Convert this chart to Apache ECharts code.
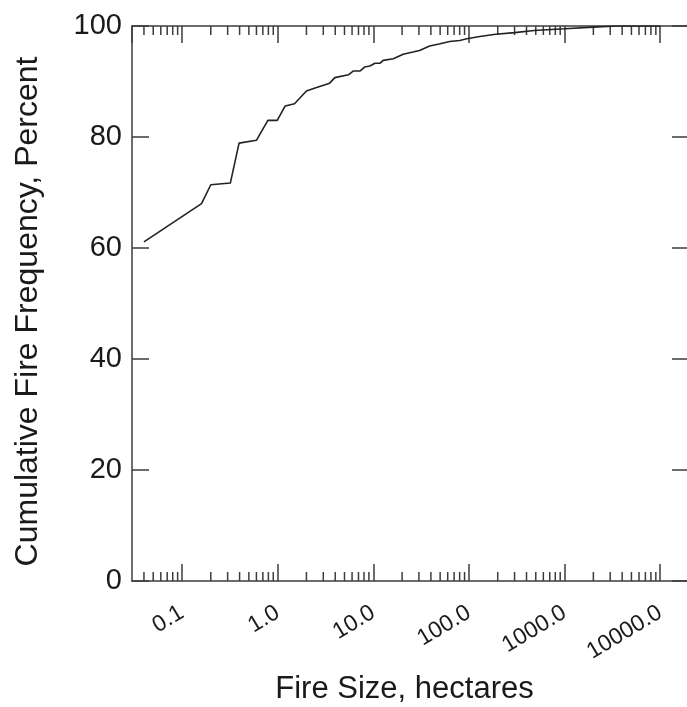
<!DOCTYPE html>
<html>
<head>
<meta charset="utf-8">
<script src="https://cdn.jsdelivr.net/npm/echarts@6/dist/echarts.min.js"></script>
<style>
  html, body { margin: 0; padding: 0; background: #fff; }
  #chart { width: 687px; height: 707px; }
</style>
</head>
<body>
<div id="chart"></div>
<script>
// fire size (hectares) and cumulative frequency (%)
var fireSize = [0.040, 0.16, 0.20, 0.32, 0.395, 0.60, 0.79, 0.99, 1.2, 1.5, 2.0, 2.55, 3.5, 3.96,
  5.5, 6.2, 7.3, 8.1, 9.2, 10.4, 11.8, 12.7, 16.2, 20.5, 26, 30.5, 38.8, 50, 62.8, 80, 95,
  130, 190, 300, 480, 1000, 2000, 3500, 10000];
var cumPercent = [61.1, 68.0, 71.4, 71.7, 78.9, 79.4, 83.0, 83.0, 85.6, 86.0, 88.3, 88.9, 89.7, 90.7,
  91.2, 91.9, 91.9, 92.6, 92.8, 93.3, 93.3, 93.8, 94.1, 94.9, 95.3, 95.6, 96.4, 96.8, 97.2, 97.4, 97.7,
  98.1, 98.5, 98.8, 99.2, 99.5, 99.8, 100, 100];

// minor ticks of the log axis (2..9 in every decade)
var minorTicks = [0.04, 0.05, 0.06, 0.07, 0.08, 0.09];
[0.1, 1, 10, 100, 1000, 10000].forEach(function (d) {
  for (var k = 2; k <= 9; k++) {
    var v = Number((k * d).toPrecision(6));
    if (v < 20000) minorTicks.push(v);
  }
});

var xMin = 0.03, xMax = 20000;

var font = 'Liberation Sans, Arial, sans-serif';
var axisColor = '#3c3c3c';
var textColor = '#1a1a1a';

var chart = echarts.init(document.getElementById('chart'));

function xLabel(v) {
  v = Number(v.toPrecision(6));
  return v < 1 ? String(v) : v.toFixed(1);
}

var lineSt = { color: axisColor, width: 1.5 };

chart.setOption({
  animation: false,
  grid: { left: 132, top: 26, right: -2, bottom: 126, outerBoundsMode: 'none', containLabel: false },
  xAxis: [{
    type: 'log',
    min: xMin,
    max: xMax,
    position: 'bottom',
    name: 'Fire Size, hectares',
    nameLocation: 'middle',
    nameGap: 93,
    nameTextStyle: { fontSize: 31, color: textColor, fontFamily: font, padding: [0, 12, 0, 0] },
    axisLine: { onZero: false, lineStyle: lineSt },
    axisTick: { inside: true, length: 17, lineStyle: lineSt },
    axisLabel: {
      rotate: 31, margin: 30, fontSize: 23, color: textColor, fontFamily: font,
      showMinLabel: false, showMaxLabel: false, formatter: xLabel
    },
    splitLine: { show: false }
  }, {
    type: 'log',
    min: xMin,
    max: xMax,
    position: 'top',
    axisLine: { onZero: false, lineStyle: lineSt },
    axisTick: { inside: true, length: 17, lineStyle: lineSt },
    axisLabel: { show: false },
    splitLine: { show: false }
  }],
  yAxis: [{
    type: 'value',
    min: 0,
    max: 100,
    interval: 20,
    name: 'Cumulative Fire Frequency, Percent',
    nameLocation: 'middle',
    nameRotate: 90,
    nameGap: 88,
    nameTextStyle: { fontSize: 32, color: textColor, fontFamily: font, padding: [0, 16, 0, 0] },
    axisLine: { show: true, onZero: false, lineStyle: lineSt },
    axisTick: { show: true, inside: true, length: 17, lineStyle: lineSt },
    axisLabel: { margin: 10, fontSize: 29, color: textColor, fontFamily: font },
    splitLine: { show: false }
  }, {
    type: 'value',
    min: 0,
    max: 100,
    interval: 20,
    position: 'right',
    axisLine: { show: true, onZero: false, lineStyle: lineSt },
    axisTick: { show: true, inside: true, length: 17, lineStyle: lineSt },
    axisLabel: { show: false },
    splitLine: { show: false }
  }],
  series: [{
    type: 'line',
    data: fireSize.map(function (x, i) { return [x, cumPercent[i]]; }),
    showSymbol: false,
    symbol: 'none',
    lineStyle: { color: '#222', width: 1.6 },
    z: 3
  }, {
    type: 'custom',
    data: minorTicks.map(function (v) { return [v, 0]; }),
    renderItem: function (params, api) {
      var bot = api.coord([api.value(0), 0]);
      var top = api.coord([api.value(0), 100]);
      var style = { stroke: axisColor, lineWidth: 1.5 };
      return {
        type: 'group',
        children: [
          { type: 'line', shape: { x1: bot[0], y1: bot[1], x2: bot[0], y2: bot[1] - 9 }, style: style },
          { type: 'line', shape: { x1: top[0], y1: top[1], x2: top[0], y2: top[1] + 9 }, style: style }
        ]
      };
    },
    silent: true,
    z: 2
  }]
});
</script>
</body>
</html>
